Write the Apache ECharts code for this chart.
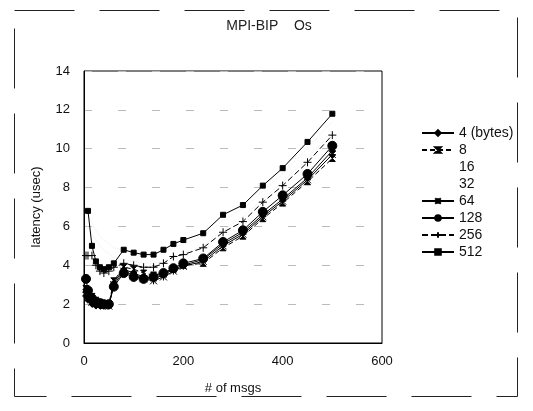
<!DOCTYPE html>
<html><head><meta charset="utf-8">
<script src="https://cdn.jsdelivr.net/npm/echarts@6/dist/echarts.min.js"></script>
<style>html,body{margin:0;padding:0;background:#fff}#c{width:533px;height:411px}</style>
</head><body><div id="c"></div>
<script>
var seriesNames = ['4 (bytes)', '8', '16', '32', '64', '128', '256', '512'];
var xValues = [4, 8, 16, 24, 32, 40, 50, 60, 80, 100, 120, 140, 160, 180, 200, 240, 280, 320, 360, 400, 450, 500];
var y4   = [2.4, 2.2, 2.0, 1.9, 1.9, 1.9, 1.9, 3.1, 3.8, 3.6, 3.4, 3.3, 3.5, 3.8, 4.0, 4.3, 5.1, 5.7, 6.6, 7.4, 8.5, 9.9];
var y8   = [2.8, 2.6, 2.4, 2.2, 2.1, 2.0, 2.0, 3.2, 3.9, 3.8, 3.6, 3.5, 3.6, 3.8, 4.0, 4.1, 4.9, 5.5, 6.4, 7.2, 8.3, 9.5];
var y16  = [7.0, 6.6, 6.2, 5.8, 5.5, 5.3, 5.1, 4.9, 4.8, 4.7, 4.6, 4.6, 4.7, 4.9, 5.1, 5.5, 6.3, 6.9, 7.8, 8.7, 10.0, 11.4];
var y32  = [6.2, 5.9, 5.6, 5.3, 5.0, 4.8, 4.6, 4.4, 4.3, 4.2, 4.1, 4.1, 4.2, 4.4, 4.6, 5.0, 5.8, 6.5, 7.4, 8.3, 9.5, 10.9];
var y64  = [2.6, 2.3, 2.1, 2.0, 1.95, 1.9, 1.9, 3.0, 3.7, 3.5, 3.3, 3.2, 3.4, 3.7, 3.95, 4.2, 5.0, 5.6, 6.5, 7.3, 8.4, 9.7];
var y128 = [3.3, 2.7, 2.3, 2.1, 2.05, 2.0, 2.0, 2.9, 3.6, 3.4, 3.3, 3.4, 3.6, 3.85, 4.1, 4.35, 5.2, 5.8, 6.75, 7.6, 8.7, 10.15];
var y256 = [4.5, 4.5, 4.5, 4.0, 3.7, 3.6, 3.7, 3.9, 4.1, 4.0, 3.9, 3.9, 4.1, 4.45, 4.55, 4.9, 5.7, 6.25, 7.25, 8.1, 9.3, 10.7];
var y512 = [null, 6.8, 5.0, 4.2, 3.9, 3.8, 3.9, 4.1, 4.8, 4.65, 4.55, 4.55, 4.8, 5.1, 5.3, 5.65, 6.6, 7.1, 8.1, 9.0, 10.35, 11.8];
var xTicks = [0, 200, 400, 600];
var yTicks = [0, 2, 4, 6, 8, 10, 12, 14];

var allY = [y4, y8, y16, y32, y64, y128, y256, y512];
var symbols = ['diamond', 'path://M0,0 L10,0 L0,10 L10,10 Z', 'none', 'none', 'path://M0,0 L10,10 M10,0 L0,10 M5,0 L5,10 M0,5 L10,5', 'circle', 'path://M5,0 L5,10 M0,5 L10,5', 'rect'];
var sizes = [6, 6, 0, 0, 7, 9, 8, 5];
var colors = ['#000', '#000', '#eeeeee', '#eeeeee', '#000', '#000', '#000', '#000'];
var dashes = ['solid', [5, 3], 'dotted', 'dotted', 'solid', 'solid', [6, 3], 'solid'];

function pairs(ys) { return xValues.map(function (x, i) { return [x, ys[i]]; }); }

var font = 'Liberation Sans, Arial, sans-serif';
var series = seriesNames.map(function (n, i) {
  return {
    name: n, type: 'line', data: pairs(allY[i]),
    symbol: symbols[i], symbolSize: sizes[i], showSymbol: sizes[i] > 0,
    itemStyle: { color: colors[i], borderColor: colors[i], borderWidth: 1 },
    lineStyle: { color: colors[i], width: 1, type: dashes[i] },
    animation: false, z: i === 2 || i === 3 ? 1 : 3
  };
});

var chart = echarts.init(document.getElementById('c'), null, { renderer: 'canvas' });
chart.setOption({
  backgroundColor: '#fff',
  animation: false,
  title: { text: 'MPI-BIP    Os', left: 264, top: 14, textAlign: 'center',
    textStyle: { fontFamily: font, fontSize: 14, fontWeight: 'normal', color: '#222' } },
  grid: { left: 84, right: 151, top: 71, bottom: 68, show: true, borderColor: '#000', borderWidth: 1 },
  legend: {
    orient: 'vertical', left: 416, top: 121, itemWidth: 32, itemHeight: 7, itemGap: 3,
    textStyle: { fontFamily: font, fontSize: 14, color: '#111', lineHeight: 14 },
    data: seriesNames.map(function (n, i) {
      if (i === 2 || i === 3) return { name: n, icon: 'none', itemStyle: { opacity: 0 }, lineStyle: { opacity: 0 } };
      return { name: n };
    })
  },
  xAxis: {
    type: 'value', min: 0, max: 600, interval: 200,
    name: '# of msgs', nameLocation: 'middle', nameGap: 39,
    nameTextStyle: { fontFamily: font, fontSize: 13, color: '#111' },
    axisLine: { show: true, lineStyle: { color: '#000' } },
    axisTick: { show: false },
    splitLine: { show: false },
    axisLabel: { fontFamily: font, fontSize: 13, color: '#111', margin: 12 }
  },
  yAxis: {
    type: 'value', min: 0, max: 14, interval: 2,
    name: 'latency (usec)', nameLocation: 'middle', nameGap: 41,
    nameTextStyle: { fontFamily: font, fontSize: 13, color: '#111' },
    axisLine: { show: true, lineStyle: { color: '#000' } },
    axisTick: { show: false },
    splitLine: { show: true, lineStyle: { color: '#bbb', width: 1, type: [8, 26] } },
    axisLabel: { fontFamily: font, fontSize: 13, color: '#111', margin: 14 }
  },
  graphic: [{
    type: 'rect', left: 12, top: 8, shape: { width: 503, height: 386 }, silent: true,
    style: { fill: 'none', stroke: '#222', lineWidth: 1, lineDash: [60, 25] }
  }],
  series: series
});
</script></body></html>
